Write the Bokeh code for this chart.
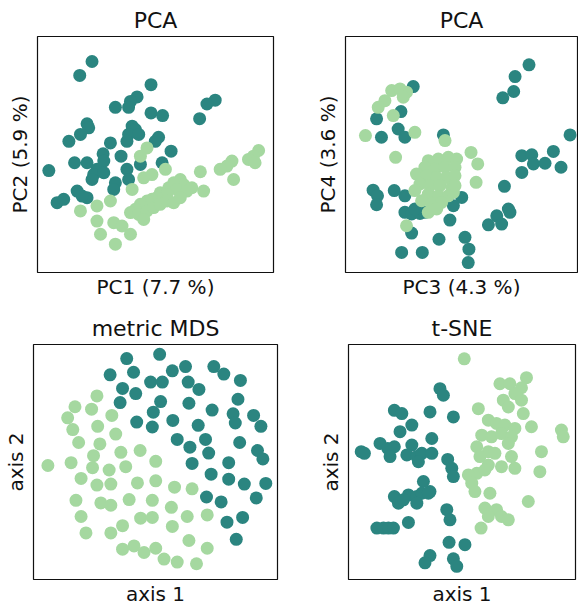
from bokeh.plotting import figure
from bokeh.layouts import column, row
from bokeh.models import Range1d
from bokeh.embed import file_html
from bokeh.resources import INLINE

DARK = "#2b8580"
LIGHT = "#a5d8a0"
FONT = "DejaVu Sans"

# ---- Panel 1: PCA, PC1 vs PC2 ----
p1_dark_x = [23.1, 17.9, 48.1, 42.2, 39.4, 38.6, 33.0, 48.1, 53.0, 75.3, 71.8, 68.7, 21.0, 21.7, 18.2, 13.3,
             40.1, 41.5, 38.6, 37.9, 42.9, 30.9, 51.3, 49.9, 56.6, 27.8, 28.1, 35.4, 15.7, 21.0, 4.8, 43.6,
             52.8, 25.2, 23.8, 28.1, 23.1, 37.9, 38.6, 33.0, 32.3, 16.8, 21.0, 18.9, 8.3, 11.1]
p1_dark_y = [89.4, 83.5, 79.6, 74.4, 72.5, 70.0, 70.0, 67.6, 66.5, 73.0, 71.4, 65.2, 63.0, 61.3, 58.5, 55.6,
             62.0, 60.6, 58.5, 55.6, 58.5, 54.9, 57.3, 55.6, 51.4, 50.3, 47.2, 49.3, 46.5, 46.5, 43.2, 45.8,
             46.5, 43.7, 41.5, 42.3, 39.4, 43.7, 39.4, 38.0, 35.2, 34.5, 31.7, 32.4, 29.6, 31.0]
p1_light_x = [93.7, 91.5, 89.4, 92.2, 82.4, 80.3, 77.4, 83.1, 69.0, 46.4, 43.6, 54.2, 48.5, 45.0, 60.5, 61.9,
              57.7, 55.6, 59.1, 63.3, 65.4, 70.4, 40.1, 52.0, 54.9, 50.6, 48.5, 46.4, 43.6, 41.5, 39.4, 42.9,
              46.4, 49.2, 52.0, 54.9, 57.7, 60.5, 30.9, 25.2, 18.2, 25.2, 32.3, 35.8, 26.7, 39.4, 33.0, 45.0]
p1_light_y = [51.7, 49.3, 47.9, 46.5, 47.2, 45.1, 43.7, 39.4, 42.7, 52.8, 49.3, 43.7, 41.5, 40.1, 39.4, 37.3,
              38.0, 35.9, 35.2, 34.5, 35.9, 34.5, 35.2, 33.8, 33.1, 31.7, 31.0, 30.3, 28.9, 26.8, 25.4, 24.6,
              26.1, 27.5, 28.9, 30.3, 29.6, 31.7, 30.3, 28.2, 26.1, 21.8, 21.1, 19.7, 16.2, 16.2, 12.0, 22.5]

# ---- Panel 2: PCA, PC3 vs PC4 ----
p2_dark_x = [79.1, 73.1, 72.5, 67.8, 29.2, 23.9, 13.4, 22.7, 25.6, 15.5, 42.2, 96.8, 76.0, 80.3, 81.0, 86.0,
             89.6, 92.9, 76.0, 68.5, 11.9, 13.8, 13.4, 21.0, 25.6, 50.1, 46.5, 25.6, 28.5, 32.1, 34.2, 29.9,
             45.0, 70.2, 65.2, 67.3, 61.6, 70.9, 28.5, 40.3, 51.5, 53.2, 52.9, 24.2, 33.1]
p2_dark_y = [88.0, 83.0, 76.7, 74.0, 78.8, 68.2, 65.1, 60.8, 57.3, 57.3, 58.3, 58.3, 49.5, 49.9, 46.0, 46.3,
             51.3, 44.6, 42.4, 36.5, 34.9, 32.5, 28.7, 34.7, 32.5, 31.8, 28.3, 25.5, 24.8, 25.0, 25.5, 26.9,
             22.2, 26.9, 24.0, 20.5, 20.2, 25.5, 16.7, 14.1, 14.9, 9.9, 4.2, 8.5, 8.5]
p2_light_x = [19.9, 23.5, 26.3, 24.9, 17.0, 14.1, 20.6, 8.6, 29.9, 42.9, 21.6, 54.1, 57.0, 56.3,
              35.7, 40.0, 44.3, 47.9, 34.2, 38.6, 42.9, 47.2, 30.6, 35.0, 39.3, 43.6, 47.2, 32.1, 36.4,
              40.7, 45.8, 35.7, 40.0, 44.3, 32.8, 37.1, 41.4, 46.5, 29.9, 35.7, 39.3, 47.2, 26.3]
p2_light_y = [77.1, 77.8, 76.4, 74.3, 72.8, 70.0, 66.5, 58.0, 59.4, 55.9, 48.8, 50.9, 46.0, 38.2,
              47.4, 48.1, 48.8, 48.1, 44.6, 43.8, 44.6, 44.6, 41.7, 41.0, 40.3, 40.3, 41.0, 37.5, 36.8,
              36.8, 36.1, 33.2, 32.5, 32.5, 30.4, 29.0, 29.7, 33.9, 34.7, 25.5, 26.9, 36.8, 19.8]

# ---- Panel 3: metric MDS ----
p3_dark_x = [38.2, 51.7, 31.4, 41.0, 56.9, 62.3, 73.9, 78.0, 84.8, 36.5, 41.9, 48.0, 52.8, 63.4, 67.8, 35.5,
             52.1, 63.7, 83.8, 49.1, 73.2, 81.8, 90.2, 42.3, 48.7, 57.1, 67.5, 82.7, 93.2, 58.9, 64.1, 70.5,
             84.5, 91.8, 94.0, 71.8, 65.0, 80.0, 72.8, 80.0, 86.4, 95.2, 70.9, 76.9, 91.3, 79.3, 85.7, 83.1]
p3_dark_y = [94.0, 95.8, 87.1, 88.2, 88.8, 90.6, 90.6, 87.4, 84.7, 81.3, 79.1, 84.0, 84.0, 84.0, 80.9, 75.3,
             75.7, 75.0, 76.7, 71.2, 72.1, 70.5, 69.8, 67.0, 64.9, 67.7, 65.6, 66.6, 65.2, 59.6, 56.3, 59.6,
             58.3, 54.9, 51.3, 53.8, 49.4, 49.7, 44.8, 42.7, 40.6, 40.9, 35.1, 33.0, 34.7, 24.4, 26.4, 17.1]
p3_light_x = [26.0, 17.0, 23.8, 14.0, 32.1, 16.1, 26.3, 33.7, 18.5, 27.2, 35.8, 43.7, 24.6, 50.1, 5.9, 15.4,
              24.2, 31.0, 37.8, 19.5, 26.0, 31.7, 42.6, 50.1, 57.8, 65.0, 17.4, 27.6, 31.7, 39.2, 48.7, 56.5,
              19.5, 43.9, 48.7, 63.0, 71.2, 56.9, 21.5, 31.7, 36.5, 36.5, 41.2, 45.3, 50.1, 53.5, 58.9, 66.8,
              63.7, 71.2]
p3_light_y = [78.1, 73.5, 72.5, 68.8, 69.8, 63.8, 65.2, 61.9, 58.3, 57.7, 54.1, 54.9, 52.7, 50.3, 48.5, 49.7,
              47.6, 46.6, 48.0, 43.0, 40.2, 40.6, 41.1, 42.0, 39.3, 38.6, 33.7, 32.6, 31.6, 34.0, 33.7, 30.7,
              26.8, 26.1, 26.4, 26.8, 27.5, 22.6, 19.8, 19.8, 22.9, 12.9, 14.3, 11.5, 13.3, 8.7, 7.4, 6.7,
              16.6, 13.3]

# ---- Panel 4: t-SNE ----
p4_dark_x = [40.3, 41.8, 20.2, 23.5, 35.9, 46.2, 27.9, 22.7, 5.6, 7.0, 13.9, 17.3, 20.2, 18.3, 27.9, 25.7,
             30.1, 32.3, 36.7, 30.8, 36.7, 43.7, 45.5, 46.2, 33.0, 35.9, 20.2, 22.0, 26.4, 30.1, 32.3, 30.1,
             35.2, 24.2, 43.3, 44.7, 26.4, 12.5, 15.4, 17.6, 19.8, 44.3, 51.3, 35.9, 33.7, 46.2, 47.7]
p4_dark_y = [81.2, 78.4, 72.0, 70.6, 71.3, 69.2, 65.7, 62.9, 54.4, 53.7, 57.9, 55.8, 56.5, 52.3, 57.2, 53.0,
             52.3, 53.7, 53.7, 50.1, 60.0, 51.1, 47.3, 43.8, 41.7, 37.4, 35.3, 32.5, 36.0, 35.3, 36.7, 32.5,
             36.7, 33.9, 29.7, 25.4, 24.3, 21.9, 21.9, 21.9, 21.9, 15.8, 14.8, 10.2, 7.1, 8.8, 5.6]
p4_light_x = [51.0, 66.7, 71.1, 78.4, 76.2, 73.3, 68.2, 57.2, 76.2, 77.0, 70.4, 61.6, 65.2, 68.9, 73.3, 80.6,
              93.8, 94.6, 58.7, 63.0, 67.4, 71.8, 70.4, 56.5, 61.6, 64.5, 57.9, 56.5, 61.6, 60.1, 67.4, 73.3,
              71.8, 85.0, 84.3, 52.8, 54.3, 55.7, 62.3, 79.2, 60.1, 65.2, 67.4, 70.4, 61.6, 58.4]
p4_light_y = [93.9, 83.3, 83.3, 85.9, 81.6, 79.1, 76.3, 72.7, 76.3, 70.6, 73.4, 67.8, 66.4, 65.7, 64.3, 65.0,
              63.6, 60.7, 61.4, 60.7, 62.1, 60.7, 57.9, 56.5, 54.4, 53.7, 52.3, 45.2, 48.7, 46.6, 48.0, 47.3,
              52.3, 54.4, 45.9, 44.5, 41.0, 37.4, 36.7, 33.2, 30.4, 29.7, 26.8, 25.4, 26.8, 21.9]

panels = [
    dict(title="PCA", xl="PC1 (7.7 %)", yl="PC2 (5.9 %)", dx=p1_dark_x, dy=p1_dark_y, lx=p1_light_x, ly=p1_light_y,
         w=290, h=304, L=37, R=17, T=35, B=32),
    dict(title="PCA", xl="PC3 (4.3 %)", yl="PC4 (3.6 %)", dx=p2_dark_x, dy=p2_dark_y, lx=p2_light_x, ly=p2_light_y,
         w=288, h=304, L=55, R=1, T=36, B=32),
    dict(title="metric MDS", xl="axis 1", yl="axis 2", dx=p3_dark_x, dy=p3_dark_y, lx=p3_light_x, ly=p3_light_y,
         w=290, h=304, L=32, R=13, T=36, B=26),
    dict(title="t-SNE", xl="axis 1", yl="axis 2", dx=p4_dark_x, dy=p4_dark_y, lx=p4_light_x, ly=p4_light_y,
         w=288, h=304, L=58, R=3, T=40, B=28),
]

figs = []
for c in panels:
    p = figure(width=c["w"], height=c["h"], output_backend="svg", toolbar_location=None,
               x_range=Range1d(0, 100), y_range=Range1d(0, 100),
               min_border_left=c["L"], min_border_right=c["R"],
               min_border_top=c["T"], min_border_bottom=c["B"])
    p.title.text = c["title"]
    p.title.align = "center"
    p.title.text_font = FONT
    p.title.text_font_size = "22px"
    p.title.text_font_style = "normal"
    p.title.text_color = "#111111"
    p.title.standoff = 7
    p.grid.visible = False
    p.outline_line_color = "#111111"
    p.outline_line_width = 1.2
    p.background_fill_color = "white"
    p.border_fill_color = "white"
    p.xaxis.axis_label_standoff = 2
    p.yaxis.axis_label_standoff = 6
    for ax, lab in ((p.xaxis, c["xl"]), (p.yaxis, c["yl"])):
        ax.ticker = []
        ax.axis_label = lab
        ax.axis_label_text_font = FONT
        ax.axis_label_text_font_size = "20px"
        ax.axis_label_text_font_style = "normal"
        ax.axis_label_text_color = "#111111"
        ax.axis_line_color = None
        ax.major_tick_line_color = None
        ax.minor_tick_line_color = None
        ax.major_tick_out = 0
        ax.minor_tick_out = 0
        ax.major_label_standoff = 0
        ax.major_label_text_font_size = "0px"
    p.scatter(c["dx"], c["dy"], size=13, fill_color=DARK, line_color=None)
    p.scatter(c["lx"], c["ly"], size=13, fill_color=LIGHT, line_color=None)
    figs.append(p)

layout = column(row(figs[0], figs[1]), row(figs[2], figs[3]))
open("out.html", "w").write(file_html(layout, INLINE))
